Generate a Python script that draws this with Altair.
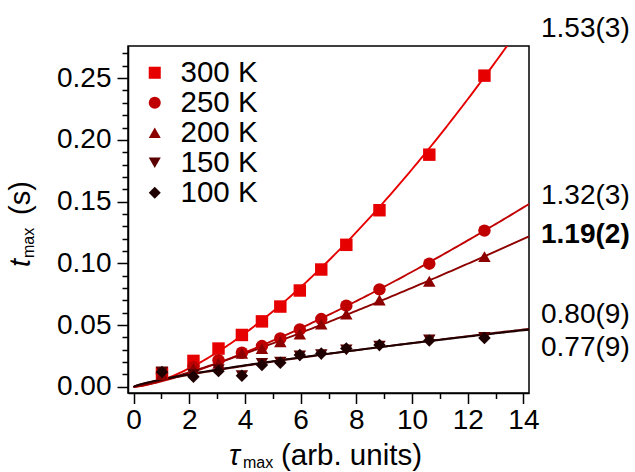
import altair as alt
import pandas as pd
import numpy as np

# ---- data ----
series = ["300 K", "250 K", "200 K", "150 K", "100 K"]
tau = [1.02, 2.15, 3.05, 3.89, 4.61, 5.27, 5.97, 6.74, 7.64, 8.83, 10.62, 12.6]
t300 = [0.011, 0.021, 0.031, 0.042, 0.053, 0.065, 0.078, 0.095, 0.115, 0.143, 0.188, 0.252]
t250 = [0.011, 0.016, 0.0216, 0.0276, 0.033, 0.0392, 0.0465, 0.0549, 0.0657, 0.0789, 0.0997, 0.1265]
t200 = [0.010, 0.015, 0.019, 0.027, 0.031, 0.0365, 0.0427, 0.0508, 0.0589, 0.0703, 0.0855, 0.1055]
t150 = [0.012, 0.010, 0.014, 0.009, 0.019, 0.020, 0.025, 0.026, 0.030, 0.033, 0.038, 0.040]
t100 = [0.012, 0.0081, 0.0127, 0.0089, 0.0176, 0.0195, 0.0257, 0.027, 0.031, 0.0338, 0.0375, 0.0396]
values = [t300, t250, t200, t150, t100]

# power-law fits t = a * tau^n
exponents = [1.53, 1.32, 1.19, 0.80, 0.77]
prefactors = [0.0052, 0.00446, 0.00518, 0.00562, 0.00600]
exp_labels = ["1.53(3)", "1.32(3)", "1.19(2)", "0.80(9)", "0.77(9)"]

x_major = [0, 2, 4, 6, 8, 10, 12, 14]
x_minor = [1, 3, 5, 7, 9, 11, 13]
y_major = [0.0, 0.05, 0.10, 0.15, 0.20, 0.25]
y_minor = [round(0.01 * k, 2) for k in range(0, 28) if k % 5 != 0]

colors = ["#e60000", "#c00000", "#8c0000", "#5a0000", "#1e0000"]
shapes = ["square", "circle", "triangle-up", "triangle-down", "diamond"]

# ---- tables ----
pts = pd.DataFrame(
    [{"series": s, "tau": x, "t": y} for s, vals in zip(series, values) for x, y in zip(tau, vals)]
)
grid = np.linspace(0.0, 14.2, 143)
curves = pd.DataFrame(
    [{"series": s, "tau": float(g), "t": float(a * g ** n)}
     for s, a, n in zip(series, prefactors, exponents) for g in grid]
)

FONT = "Liberation Sans"
W, H = 401, 347

xs = alt.Scale(domain=[-0.2, 14.2], nice=False, zero=False)
ys = alt.Scale(domain=[-0.005, 0.276], nice=False, zero=False)
cs = alt.Scale(domain=series, range=colors)
ss = alt.Scale(domain=series, range=shapes)

leg = alt.Legend(orient="none", legendX=12, legendY=12, title=None,
                 labelFontSize=29.5, labelFont=FONT, labelColor="black",
                 symbolSize=145, rowPadding=-1.3, padding=0, labelOffset=11,
                 symbolStrokeWidth=0)

lines = alt.Chart(curves).mark_line(clip=True, strokeWidth=1.9).encode(
    x=alt.X("tau:Q", scale=xs,
            axis=alt.Axis(values=x_minor, labels=False, tickSize=5.5, domain=False,
                          grid=False, title=None, orient="bottom")),
    y=alt.Y("t:Q", scale=ys,
            axis=alt.Axis(values=y_minor, labels=False, tickSize=6, domain=False,
                          grid=False, title=None, orient="left")),
    color=alt.Color("series:N", scale=cs, legend=leg, sort=series),
)

points = alt.Chart(pts).mark_point(filled=True, size=155, opacity=1).encode(
    x=alt.X("tau:Q", scale=xs,
            axis=alt.Axis(values=x_major, tickSize=10.5, grid=False, title=None,
                          labelFontSize=28, labelPadding=3, labelFlush=False,
                          orient="bottom")),
    y=alt.Y("t:Q", scale=ys,
            axis=alt.Axis(values=y_major, format=".2f", tickSize=11, grid=False,
                          title=None, labelFontSize=28, labelPadding=6, orient="left")),
    color=alt.Color("series:N", scale=cs, legend=leg, sort=series),
    shape=alt.Shape("series:N", scale=ss, legend=leg, sort=series),
)

one = pd.DataFrame({"k": [0]})


def txt(s, x, y, size=28, style="normal", weight="normal", angle=0, baseline="alphabetic"):
    return alt.Chart(one).mark_text(
        text=s, font=FONT, fontSize=size, fontStyle=style, fontWeight=weight,
        angle=angle, align="left", baseline=baseline, color="black",
    ).encode(x=alt.value(x), y=alt.value(y))


texts = []
# exponent labels on the right
label_y = [-17, 150, 189, 269, 302]
for lab, yy in zip(exp_labels, label_y):
    texts.append(txt(lab, 413, yy, weight="bold" if lab == "1.19(2)" else "normal",
                     baseline="middle"))

# x title: tau_max (arb. units)
texts.append(txt("τ", 101, 419, size=29, style="italic"))
texts.append(txt("max", 115, 422, size=16))
texts.append(txt("(arb. units)", 153, 419, size=29.5))
# y title: t_max (s)
texts.append(txt("t", -98, 221, size=29, style="italic", angle=270))
texts.append(txt("max", -94, 212, size=16, angle=270))
texts.append(txt("(s)", -98, 169, size=29, angle=270))

chart = alt.layer(lines, points, *texts).resolve_axis(
    x="independent", y="independent"
).properties(
    width=W, height=H,
    padding={"left": 128, "top": 46, "right": 106, "bottom": 79},
    autosize=alt.AutoSizeParams(type="none"),
).configure(
    font=FONT,
).configure_view(
    stroke="black", strokeWidth=1.5,
).configure_axis(
    domainColor="black", domainWidth=1.5, tickColor="black", tickWidth=1.5,
    labelColor="black", labelFont=FONT,
)

chart.save("out.html", embed_options={"renderer": "svg", "actions": False})
